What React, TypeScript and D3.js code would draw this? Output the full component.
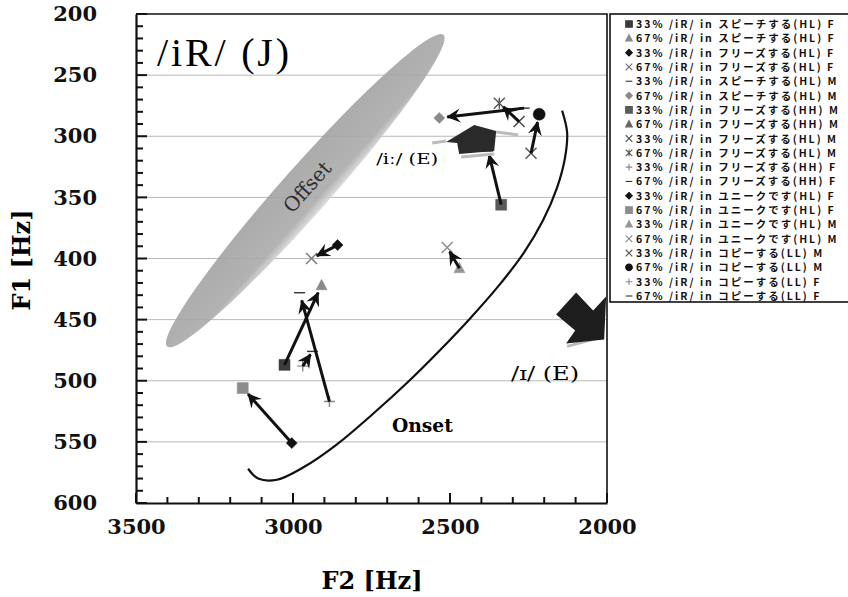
import { Component, createRef } from 'react'
import * as d3 from 'd3'

// 20 series, 33% point -> 67% point of each word/speaker
const seriesLabels = [
  '33% /iR/ in スピーチする(HL) F',
  '67% /iR/ in スピーチする(HL) F',
  '33% /iR/ in フリーズする(HL) F',
  '67% /iR/ in フリーズする(HL) F',
  '33% /iR/ in スピーチする(HL) M',
  '67% /iR/ in スピーチする(HL) M',
  '33% /iR/ in フリーズする(HH) M',
  '67% /iR/ in フリーズする(HH) M',
  '33% /iR/ in フリーズする(HL) M',
  '67% /iR/ in フリーズする(HL) M',
  '33% /iR/ in フリーズする(HH) F',
  '67% /iR/ in フリーズする(HH) F',
  '33% /iR/ in ユニークです(HL) F',
  '67% /iR/ in ユニークです(HL) F',
  '33% /iR/ in ユニークです(HL) M',
  '67% /iR/ in ユニークです(HL) M',
  '33% /iR/ in コピーする(LL) M',
  '67% /iR/ in コピーする(LL) M',
  '33% /iR/ in コピーする(LL) F',
  '67% /iR/ in コピーする(LL) F',
]
const f2Values = [3027, 2909, 2858, 2941, 2264, 2534, 2337, 2381, 2280, 2343, 2884, 2979, 3004, 3160, 2470, 2509, 2242, 2216, 2969, 2938]
const f1Values = [487, 422, 389, 400, 277, 285, 356, 309, 288, 273, 517, 428, 551, 506, 408, 391, 314, 282, 488, 476]
const markerShapes = ['square', 'triangle', 'diamond', 'x', 'dash', 'diamond', 'square', 'triangle', 'x', 'star',
  'plus', 'dash', 'diamond', 'square', 'triangle', 'x', 'x', 'circle', 'plus', 'dash']
const markerColors = ['#3c3c3c', '#8a8a8a', '#111', '#777', '#333', '#8a8a8a', '#5a5a5a', '#666', '#444', '#555',
  '#888', '#333', '#111', '#8c8c8c', '#969696', '#8a8a8a', '#555', '#111', '#888', '#333']
const arrowPairs = [[0, 1], [2, 3], [4, 5], [6, 7], [8, 9], [10, 11], [12, 13], [14, 15], [16, 17], [18, 19]]

const yTicks = [200, 250, 300, 350, 400, 450, 500, 550, 600]
const xTicks = [3500, 3000, 2500, 2000]
const yMinorTicks = d3.range(200, 601, 10)
const xMinorTicks = d3.range(2000, 3501, 100)

// onset boundary (half ellipse)
const onsetF2 = [2143, 2127, 2134, 2159, 2204, 2264, 2344, 2436, 2532, 2634, 2745, 2860, 2968, 3051, 3111, 3143]
const onsetF1 = [279, 297, 318, 342, 369, 395, 422, 449, 475, 501, 527, 552, 571, 581, 580, 572]
// offset region: the two tips of the grey ellipse
const offsetF2 = [3401, 2521]
const offsetF1 = [472, 217]
// English reference vowels
const vowelF2 = [2423, 2076]
const vowelF1 = [303, 449]

class FormantChart extends Component {
  svgRef = createRef<SVGSVGElement>()
  x = d3.scaleLinear().domain([3500, 2000]).range([136, 607])
  y = d3.scaleLinear().domain([200, 600]).range([14, 503])
  serif = '"DejaVu Serif", serif'

  componentDidMount() {
    this.paint()
  }

  markerPath(shape: string, r: number) {
    if (shape === 'square') return `M${-r},${-r}H${r}V${r}H${-r}Z`
    if (shape === 'diamond') return `M0,${-r}L${r},0L0,${r}L${-r},0Z`
    if (shape === 'triangle') return `M0,${-r * 1.1}L${r},${r * 0.8}L${-r},${r * 0.8}Z`
    if (shape === 'circle') return d3.symbol(d3.symbolCircle, Math.PI * r * r)() as string
    if (shape === 'x') return `M${-r},${-r}L${r},${r}M${-r},${r}L${r},${-r}`
    if (shape === 'star') return `M${-r},${-r}L${r},${r}M${-r},${r}L${r},${-r}M0,${-r}V${r}`
    if (shape === 'plus') return `M${-r},0H${r}M0,${-r}V${r}`
    return `M${-r},0H${r}`
  }

  isFilled(shape: string) {
    return ['square', 'diamond', 'triangle', 'circle'].includes(shape)
  }

  paint() {
    const svg = d3.select(this.svgRef.current)
    svg.selectAll('*').remove()
    const x = this.x, y = this.y

    const defs = svg.append('defs')
    defs.append('marker')
      .attr('id', 'head')
      .attr('markerUnits', 'userSpaceOnUse')
      .attr('viewBox', '-14 -8 16 16')
      .attr('markerWidth', 16).attr('markerHeight', 16)
      .attr('refX', 0).attr('refY', 0)
      .attr('orient', 'auto')
      .append('path')
      .attr('d', 'M1,0L-13,-7L-8,0L-13,7Z')
      .attr('fill', '#111')
    const grad = defs.append('linearGradient').attr('id', 'offGrad')
      .attr('x1', 0).attr('y1', 0).attr('x2', 0).attr('y2', 1)
    grad.append('stop').attr('offset', 0).attr('stop-color', '#a2a2a2')
    grad.append('stop').attr('offset', 0.8).attr('stop-color', '#aaaaaa')
    grad.append('stop').attr('offset', 1).attr('stop-color', '#dadada')

    svg.append('rect').attr('width', 848).attr('height', 597).attr('fill', '#fff')

    // grid
    svg.append('g').selectAll('line')
      .data(yTicks.slice(1, -1))
      .enter().append('line')
      .attr('x1', x(3500)).attr('x2', x(2000))
      .attr('y1', d => y(d)).attr('y2', d => y(d))
      .attr('stroke', '#b8b8b8').attr('stroke-width', 1)

    // offset ellipse
    const p1 = [x(offsetF2[0]), y(offsetF1[0])]
    const p2 = [x(offsetF2[1]), y(offsetF1[1])]
    const cx = (p1[0] + p2[0]) / 2, cy = (p1[1] + p2[1]) / 2
    const len = Math.hypot(p2[0] - p1[0], p2[1] - p1[1])
    const ang = Math.atan2(p2[1] - p1[1], p2[0] - p1[0]) * 180 / Math.PI
    const off = svg.append('g').attr('transform', `translate(${cx},${cy}) rotate(${ang})`)
    off.append('ellipse')
      .attr('rx', len / 2).attr('ry', 24)
      .attr('fill', 'url(#offGrad)').attr('opacity', 0.9)
    off.append('text')
      .attr('x', 4).attr('y', -1)
      .attr('text-anchor', 'middle').attr('dominant-baseline', 'central')
      .attr('font-family', this.serif).attr('font-size', 20)
      .attr('fill', '#2e2e2e')
      .text('Offset')

    // onset curve
    const onsetLine = d3.line<number>()
      .x((d, i) => x(onsetF2[i]))
      .y(d => y(d))
      .curve(d3.curveCatmullRom)
    svg.append('path')
      .attr('d', onsetLine(onsetF1))
      .attr('fill', 'none').attr('stroke', '#111').attr('stroke-width', 2.2)

    // markers
    svg.append('g').selectAll('path')
      .data(f2Values)
      .enter().append('path')
      .attr('transform', (d, i) => `translate(${x(d)},${y(f1Values[i])})`)
      .attr('d', (d, i) => this.markerPath(markerShapes[i], markerShapes[i] === 'circle' ? 6 : 5.5))
      .attr('fill', (d, i) => this.isFilled(markerShapes[i]) ? markerColors[i] : 'none')
      .attr('stroke', (d, i) => markerColors[i])
      .attr('stroke-width', (d, i) => this.isFilled(markerShapes[i]) ? 0.5 : 1.4)

    // arrows 33% -> 67%
    svg.append('g').selectAll('line')
      .data(arrowPairs)
      .enter().append('line')
      .each(function (d) {
        const ax = x(f2Values[d[0]]), ay = y(f1Values[d[0]])
        const bx = x(f2Values[d[1]]), by = y(f1Values[d[1]])
        const l = Math.hypot(bx - ax, by - ay)
        const cut = Math.min(8, l * 0.2)
        d3.select(this)
          .attr('x1', ax).attr('y1', ay)
          .attr('x2', bx - (bx - ax) / l * cut).attr('y2', by - (by - ay) / l * cut)
      })
      .attr('stroke', '#111').attr('stroke-width', 3)
      .attr('marker-end', 'url(#head)')

    // English vowel symbols
    const ix = x(vowelF2[0]), iy = y(vowelF1[0])
    svg.append('g').attr('transform', `translate(${ix},${iy})`).call(g => {
      g.append('path').attr('d', 'M-42,3L-28,1M22,-8L44,-5M-13,17L20,14')
        .attr('stroke', '#bbb').attr('stroke-width', 3).attr('fill', 'none')
      g.append('path').attr('d', 'M-28,2L0,-15L22,-9L20,11L-15,14L-17,3Z')
        .attr('fill', '#2a2a2a')
    })
    const ex = x(vowelF2[1]), ey = y(vowelF1[1])
    svg.append('g').attr('transform', `translate(${ex},${ey})`).call(g => {
      g.append('path').attr('d', 'M-16,28L21,18')
        .attr('stroke', '#bbb').attr('stroke-width', 3)
      g.append('path').attr('d', 'M21,21L-17,25L-8,12L-27,-4L-7,-26L10,-8L23,-22Z')
        .attr('fill', '#1e1e1e')
    })

    // labels in the plot
    svg.append('text')
      .attr('x', 157).attr('y', 66)
      .attr('font-family', '"Liberation Serif", serif').attr('font-size', 40)
      .attr('textLength', 132).attr('lengthAdjust', 'spacing')
      .text('/iR/ (J)')
    svg.append('text')
      .attr('x', ix - 98).attr('y', iy + 24)
      .attr('font-family', this.serif).attr('font-size', 15)
      .attr('textLength', 62).attr('lengthAdjust', 'spacingAndGlyphs')
      .text('/iː/ (E)')
    svg.append('text')
      .attr('x', ex - 72).attr('y', ey + 62)
      .attr('font-family', this.serif).attr('font-size', 18)
      .attr('textLength', 68).attr('lengthAdjust', 'spacingAndGlyphs')
      .text('/ɪ/ (E)')
    svg.append('text')
      .attr('x', x(2685)).attr('y', y(542))
      .attr('font-family', this.serif).attr('font-size', 18).attr('font-weight', 'bold')
      .attr('textLength', 61).attr('lengthAdjust', 'spacingAndGlyphs')
      .text('Onset')

    this.drawAxis(svg)
    this.drawLegend(svg)
  }

  drawAxis(svg: any) {
    const x = this.x, y = this.y
    // frame
    svg.append('path')
      .attr('d', `M${x(3500)},${y(200)}H${x(2000)}V${y(600)}`)
      .attr('fill', 'none').attr('stroke', '#111').attr('stroke-width', 1.6)

    // inward ticks, major ones longer
    const ticks = svg.append('g')
    ticks.selectAll('line.ym')
      .data(yMinorTicks)
      .enter().append('line')
      .attr('class', 'ym')
      .attr('x1', x(3500)).attr('x2', (d: number) => x(3500) + (d % 50 === 0 ? 11 : 7))
      .attr('y1', (d: number) => y(d)).attr('y2', (d: number) => y(d))
      .attr('stroke', '#111').attr('stroke-width', 2)
    ticks.selectAll('line.xm')
      .data(xMinorTicks)
      .enter().append('line')
      .attr('class', 'xm')
      .attr('x1', (d: number) => x(d)).attr('x2', (d: number) => x(d))
      .attr('y1', y(600)).attr('y2', (d: number) => y(600) - (d % 500 === 0 ? 10 : 6))
      .attr('stroke', '#111').attr('stroke-width', 2)

    const yAxis = d3.axisLeft(y).tickValues(yTicks).tickSize(0).tickPadding(39)
    const xAxis = d3.axisBottom(x).tickValues(xTicks).tickSize(0).tickPadding(16)
      .tickFormat(d3.format('d'))

    const groups = [
      svg.append('g').attr('transform', `translate(${x(3500)},0)`).call(yAxis),
      svg.append('g').attr('transform', `translate(0,${y(600)})`).call(xAxis),
    ]
    for (const g of groups) {
      g.selectAll('.domain').attr('stroke', '#111').attr('stroke-width', 2.2)
      g.selectAll('text')
        .attr('font-family', this.serif).attr('font-size', 21).attr('font-weight', 'bold')
        .attr('fill', '#111')
    }

    svg.append('text')
      .attr('transform', 'translate(30,260) rotate(-90)')
      .attr('text-anchor', 'middle')
      .attr('font-family', this.serif).attr('font-size', 24).attr('font-weight', 'bold')
      .text('F1 [Hz]')
    svg.append('text')
      .attr('x', 372).attr('y', 589)
      .attr('text-anchor', 'middle')
      .attr('font-family', this.serif).attr('font-size', 24).attr('font-weight', 'bold')
      .text('F2 [Hz]')
  }

  drawLegend(svg: any) {
    const lg = svg.append('g')
    lg.append('rect')
      .attr('x', 610).attr('y', 14).attr('width', 260).attr('height', 288)
      .attr('fill', '#fff').attr('stroke', '#111').attr('stroke-width', 1.6)
    const row = d3.scaleLinear().domain([0, 19]).range([24, 296])
    const items = lg.selectAll('g.item')
      .data(seriesLabels)
      .enter().append('g')
      .attr('class', 'item')
      .attr('transform', (d: string, i: number) => `translate(0,${row(i)})`)
    items.append('path')
      .attr('transform', 'translate(629,0)')
      .attr('d', (d: string, i: number) => this.markerPath(markerShapes[i], 3.3))
      .attr('fill', (d: string, i: number) => this.isFilled(markerShapes[i]) ? markerColors[i] : 'none')
      .attr('stroke', (d: string, i: number) => markerColors[i])
      .attr('stroke-width', 1.1)
    items.append('text')
      .attr('x', 636).attr('y', 4)
      .attr('font-family', '"Noto Sans CJK JP", sans-serif')
      .attr('font-size', 10.5).attr('font-weight', 'bold')
      .attr('letter-spacing', 2)
      .attr('fill', '#111')
      .text((d: string) => d)
  }

  render() {
    return (
      <svg ref={this.svgRef} width={848} height={597}
           style={{ position: 'absolute', left: 0, top: 0, background: '#fff' }} />
    )
  }
}

export default function App() {
  return <FormantChart />
}
